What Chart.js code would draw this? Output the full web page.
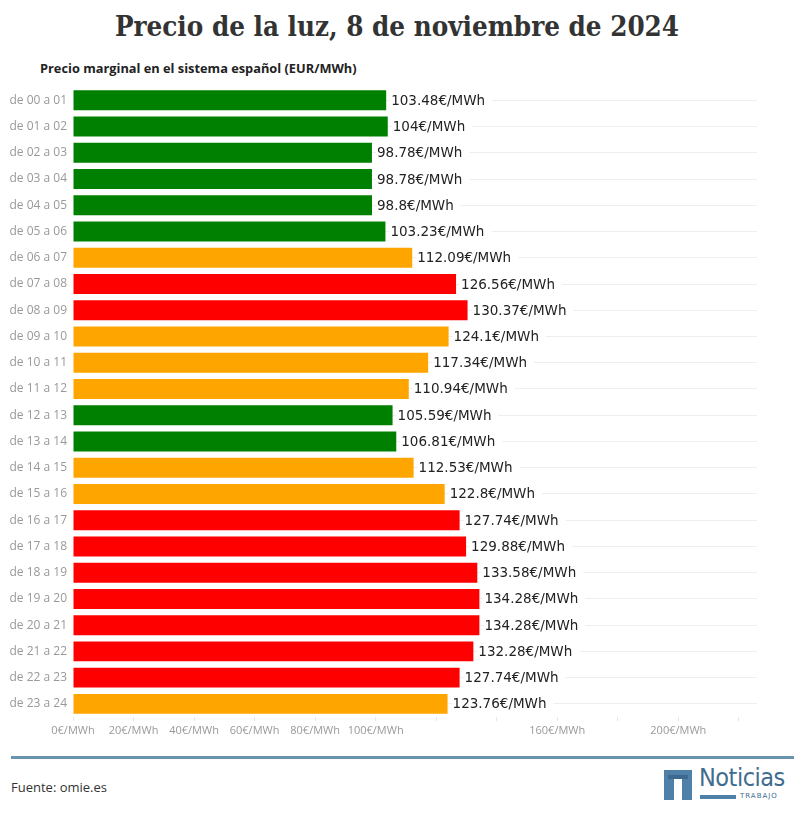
<!DOCTYPE html>
<html>
<head>
<meta charset="utf-8">
<script src="https://cdn.jsdelivr.net/npm/chart.js@4/dist/chart.umd.min.js"></script>
<style>
  html, body { margin: 0; padding: 0; background: #fff; width: 794px; height: 817px; overflow: hidden; }
  #title { position: absolute; left: 0; top: 10px; width: 794px; text-align: center;
    font-family: "DejaVu Serif Condensed", "DejaVu Serif", serif; font-weight: bold; font-size: 27.5px; color: #333; }
  #subtitle { position: absolute; left: 40px; top: 59px; font-family: "Open Sans", sans-serif; font-weight: bold;
    font-size: 12.8px; color: #222; }
  #wrap { position: absolute; left: 0; top: 74px; width: 794px; height: 671px; }
  #rule { position: absolute; left: 11px; top: 756px; width: 783px; height: 3px; background: #6a93ad; }
  #source { position: absolute; left: 11px; top: 778px; font-family: "Open Sans", sans-serif; font-size: 13px; color: #333; }
  #logo { position: absolute; left: 664px; top: 770px; width: 125px; height: 34px; }
  #logo .box { position: absolute; left: 0; top: 0; width: 28px; height: 30px; background: #4f80a8; }
  #logo .notch { position: absolute; left: 10px; top: 9px; width: 8px; height: 21px; background: #fff; }
  #logo .boxtop { position: absolute; left: 4px; top: 5px; width: 20px; height: 4px; background: #3d6990; }
  #logo .name { position: absolute; left: 35px; top: -7px; font-family: "DejaVu Sans Condensed", "Liberation Sans Narrow", sans-serif;
    font-size: 25px; color: #3f6d8f; letter-spacing: -0.5px; }
  #logo .bar { position: absolute; left: 36px; top: 25px; width: 36px; height: 4px; background: #4f80a8; }
  #logo .sub { position: absolute; left: 76px; top: 22px; font-family: "DejaVu Sans", sans-serif; font-size: 7px;
    color: #3f6d8f; letter-spacing: 1px; }
</style>
</head>
<body>
<div id="title">Precio de la luz, 8 de noviembre de 2024</div>
<div id="subtitle">Precio marginal en el sistema español (EUR/MWh)</div>
<div id="wrap"><canvas id="c"></canvas></div>
<div id="rule"></div>
<div id="source">Fuente: omie.es</div>
<div id="logo">
  <div class="box"></div><div class="boxtop"></div><div class="notch"></div>
  <div class="name">Noticias</div>
  <div class="bar"></div>
  <div class="sub">TRABAJO</div>
</div>
<script>
const hours = ["de 00 a 01","de 01 a 02","de 02 a 03","de 03 a 04","de 04 a 05","de 05 a 06",
  "de 06 a 07","de 07 a 08","de 08 a 09","de 09 a 10","de 10 a 11","de 11 a 12",
  "de 12 a 13","de 13 a 14","de 14 a 15","de 15 a 16","de 16 a 17","de 17 a 18",
  "de 18 a 19","de 19 a 20","de 20 a 21","de 21 a 22","de 22 a 23","de 23 a 24"];
const prices = [103.48, 104, 98.78, 98.78, 98.8, 103.23, 112.09, 126.56, 130.37, 124.1, 117.34, 110.94,
  105.59, 106.81, 112.53, 122.8, 127.74, 129.88, 133.58, 134.28, 134.28, 132.28, 127.74, 123.76];
const xTickValues = [0, 20, 40, 60, 80, 100, 120, 140, 160, 180, 200, 220];
const xTickLabelsShown = [0, 20, 40, 60, 80, 100, 160, 200];
const unit = "€/MWh";

function colorFor(v) {
  if (v < 108) return "#008000";
  if (v < 125) return "#FFA500";
  return "#FF0000";
}

const valueLabels = {
  id: "valueLabels",
  afterDatasetsDraw(chart) {
    const ctx = chart.ctx;
    const meta = chart.getDatasetMeta(0);
    ctx.save();
    ctx.font = "13.5px 'DejaVu Sans', sans-serif";
    ctx.textBaseline = "middle";
    ctx.textAlign = "left";
    meta.data.forEach((bar, i) => {
      const txt = String(prices[i]) + unit;
      const w = ctx.measureText(txt).width;
      const x = bar.x + 5;
      ctx.fillStyle = "#fff";
      ctx.fillRect(x - 1, bar.y - 8, w + 8, 16);
      ctx.fillStyle = "#222";
      ctx.fillText(txt, x, bar.y + 1);
    });
    ctx.restore();
  }
};

new Chart(document.getElementById("c"), {
  type: "bar",
  data: {
    labels: hours,
    datasets: [{
      data: prices,
      backgroundColor: prices.map(colorFor),
      borderWidth: 0,
      barPercentage: 0.8,
      categoryPercentage: 0.95
    }]
  },
  options: {
    indexAxis: "y",
    responsive: true,
    maintainAspectRatio: false,
    animation: false,
    layout: { padding: { left: 0, right: 37, top: 0, bottom: 0 } },
    plugins: { legend: { display: false }, tooltip: { enabled: false } },
    scales: {
      x: {
        min: 0, max: 226,
        afterBuildTicks(axis) { axis.ticks = xTickValues.map(v => ({ value: v })); },
        afterFit(axis) { axis.height = 28; },
        grid: { drawOnChartArea: false, drawTicks: true, tickLength: 4, color: "#e6e6e6" },
        border: { display: false },
        ticks: {
          autoSkip: false, maxRotation: 0, padding: 3,
          color: "#999", font: { family: "'Open Sans', sans-serif", size: 11 },
          callback(v) { return xTickLabelsShown.includes(v) ? v + unit : ""; }
        }
      },
      y: {
        afterFit(axis) { axis.width = 73; },
        grid: { offset: false, drawTicks: false, color: "#eeeeee", lineWidth: 1 },
        border: { display: false },
        ticks: { padding: 6, color: "#999", font: { family: "'Open Sans', sans-serif", size: 12 } }
      }
    }
  },
  plugins: [valueLabels]
});
</script>
</body>
</html>
